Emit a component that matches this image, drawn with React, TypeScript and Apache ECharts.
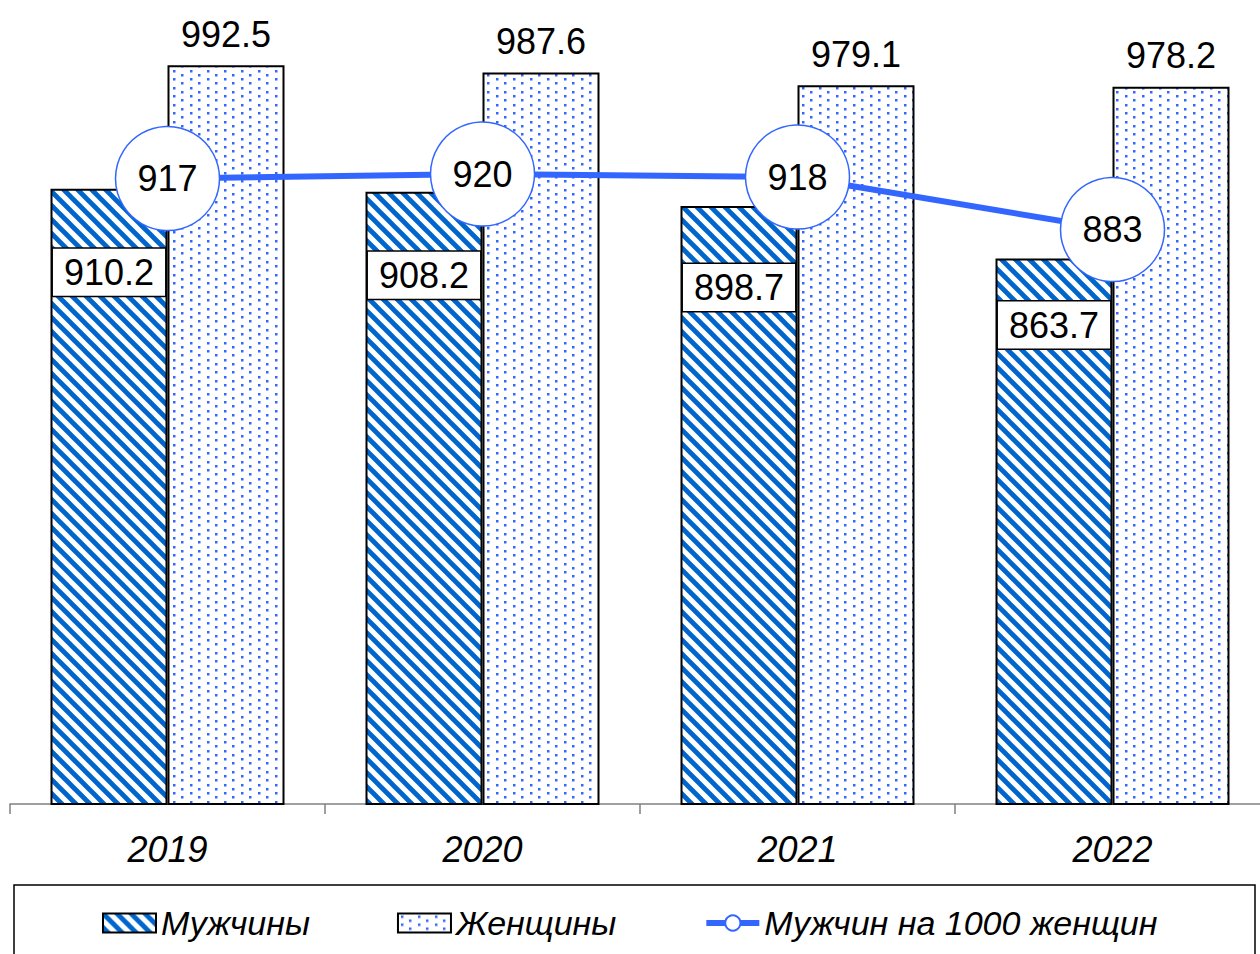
import React, { useEffect, useRef } from 'react';
import * as echarts from 'echarts';

const years = ['2019', '2020', '2021', '2022'];
const men = [910.2, 908.2, 898.7, 863.7];
const women = [992.5, 987.6, 979.1, 978.2];
const menPer1000 = [917, 920, 918, 883];
const seriesNames = ['Мужчины', 'Женщины', 'Мужчин на 1000 женщин'];

const FONT = "'Liberation Sans', Arial, sans-serif";

function makeHatch(): HTMLCanvasElement {
  const T = 14;
  const c = document.createElement('canvas');
  c.width = T;
  c.height = T;
  const ctx = c.getContext('2d')!;
  ctx.fillStyle = '#ffffff';
  ctx.fillRect(0, 0, T, T);
  ctx.strokeStyle = '#0066cc';
  ctx.lineWidth = 4.8;
  for (let k = -1; k <= 1; k++) {
    ctx.beginPath();
    ctx.moveTo(k * T - 3, -3);
    ctx.lineTo(k * T + T + 3, T + 3);
    ctx.stroke();
  }
  return c;
}

function makeDots(): HTMLCanvasElement {
  const W = 17;
  const H = 17;
  const c = document.createElement('canvas');
  c.width = W;
  c.height = H;
  const ctx = c.getContext('2d')!;
  ctx.fillStyle = '#ffffff';
  ctx.fillRect(0, 0, W, H);
  ctx.fillStyle = '#3366ff';
  const pts = [
    [3, 2],
    [3, 10],
    [11, 6],
    [11, 14],
  ];
  pts.forEach(([x, y]) => ctx.fillRect(x, y, 2.5, 2.5));
  return c;
}

export default function App() {
  const ref = useRef<HTMLDivElement>(null);

  useEffect(() => {
    if (!ref.current) return;
    const chart = echarts.init(ref.current, null, { renderer: 'svg' });
    const hatch = makeHatch();
    const dots = makeDots();
    const hatchFill: any = { image: hatch, repeat: 'repeat', imageWidth: 14, imageHeight: 14 };
    const dotFill: any = { image: dots, repeat: 'repeat', imageWidth: 17, imageHeight: 17 };
    const menLabelDrop = [60, 60, 58, 43];

    const option: any = {
      animation: false,
      backgroundColor: '#ffffff',
      grid: { left: 10, top: 54, right: 0, bottom: 150, containLabel: false },
      xAxis: {
        type: 'category',
        data: years,
        axisLine: { show: true, lineStyle: { color: '#808080', width: 1.5 } },
        axisTick: { show: true, alignWithLabel: false, length: 10, lineStyle: { color: '#808080', width: 1.5 } },
        axisLabel: {
          margin: 27,
          fontSize: 36,
          fontStyle: 'italic',
          color: '#000',
          fontFamily: FONT,
        },
      },
      yAxis: {
        type: 'value',
        min: 500,
        max: 1000,
        show: false,
        splitLine: { show: false },
      },
      legend: {
        left: 97,
        top: 901,
        itemGap: 87,
        itemWidth: 53,
        itemHeight: 19,
        textStyle: { fontSize: 34, fontStyle: 'italic', color: '#000', fontFamily: FONT },
        data: [
          { name: seriesNames[0], icon: 'rect' },
          { name: seriesNames[1], icon: 'rect' },
          {
            name: seriesNames[2],
            lineStyle: { width: 6, color: '#3366ff' },
            itemStyle: { color: '#fff', borderColor: '#3366ff', borderWidth: 2 },
          },
        ],
      },
      graphic: [
        {
          type: 'rect',
          shape: { x: 14, y: 885, width: 1241, height: 100 },
          style: { fill: 'none', stroke: '#000', lineWidth: 1.5 },
          silent: true,
        },
      ],
      series: [
        {
          name: seriesNames[0],
          type: 'bar',
          barWidth: 117,
          barGap: '0%',
          itemStyle: { color: hatchFill, borderColor: '#000', borderWidth: 2 },
          data: men.map((v, i) => ({
            value: v,
            label: { distance: menLabelDrop[i] },
          })),
          label: {
            show: true,
            position: 'insideTop',
            fontSize: 36,
            color: '#000',
            fontFamily: FONT,
            backgroundColor: '#fff',
            borderColor: '#000',
            borderWidth: 1.5,
            padding: [6, 11, 5, 11],
            formatter: (p: any) => p.value.toFixed(1),
          },
        },
        {
          name: seriesNames[1],
          type: 'bar',
          barWidth: 117,
          barGap: '0%',
          itemStyle: { color: dotFill, borderColor: '#000', borderWidth: 2 },
          data: women,
          label: {
            show: true,
            position: 'top',
            distance: 13,
            fontSize: 36,
            color: '#000',
            fontFamily: FONT,
            formatter: (p: any) => p.value.toFixed(1),
          },
        },
        {
          name: seriesNames[2],
          type: 'line',
          data: menPer1000,
          symbol: 'circle',
          symbolSize: 104,
          lineStyle: { color: '#3366ff', width: 6 },
          itemStyle: { color: '#ffffff', borderColor: '#3366ff', borderWidth: 1.5 },
          label: {
            show: true,
            position: 'inside',
            fontSize: 36,
            color: '#000',
            fontFamily: FONT,
          },
          z: 5,
        },
      ],
    };
    chart.setOption(option);
    return () => chart.dispose();
  }, []);

  return (
    <div
      style={{
        position: 'absolute',
        left: 0,
        top: 0,
        width: 1260,
        height: 954,
        overflow: 'hidden',
        background: '#fff',
      }}
    >
      <div ref={ref} style={{ width: 1270, height: 954 }} />
    </div>
  );
}
